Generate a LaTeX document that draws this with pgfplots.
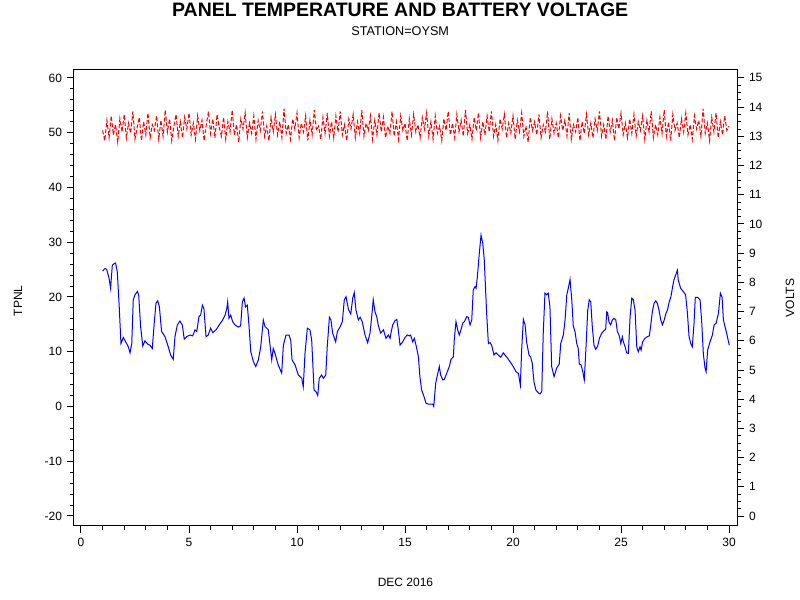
\documentclass[border=0pt]{standalone}
\usepackage{fontspec}
\setmainfont{Liberation Sans}
\usepackage{pgfplots}
\pgfplotsset{compat=1.18}
\usetikzlibrary{calc}

\pgfplotstableread{
x y
1.0 13.20
1.1 12.85
1.2 13.55
1.3 12.95
1.4 13.70
1.5 13.05
1.6 13.40
1.7 12.80
1.8 13.60
1.9 13.15
2.0 13.75
2.1 12.95
2.2 13.45
2.3 13.10
2.4 13.85
2.5 12.90
2.6 13.30
2.7 13.65
2.8 12.85
2.9 13.50
3.0 13.05
3.1 13.80
3.2 12.95
3.3 13.40
3.4 13.20
3.5 13.70
3.6 12.90
3.7 13.55
3.8 13.00
3.9 13.90
4.0 13.15
4.1 13.60
4.2 12.85
4.3 13.35
4.4 13.75
4.5 13.00
4.6 13.50
4.7 12.95
4.8 13.65
4.9 13.25
5.0 13.80
5.1 13.05
5.2 13.45
5.3 12.90
5.4 13.70
5.5 13.20
5.6 13.55
5.7 12.85
5.8 13.40
5.9 13.85
6.0 13.10
6.1 13.60
6.2 12.95
6.3 13.75
6.4 13.30
6.5 13.00
6.6 13.65
6.7 12.90
6.8 13.50
6.9 13.15
7.0 13.90
7.1 13.05
7.2 13.40
7.3 12.80
7.4 13.60
7.5 13.25
7.6 13.80
7.7 12.95
7.8 13.45
7.9 13.10
8.0 13.70
8.1 12.90
8.2 13.55
8.3 13.20
8.4 13.85
8.5 13.00
8.6 13.35
8.7 12.85
8.8 13.65
8.9 13.15
9.0 13.75
9.1 13.05
9.2 13.50
9.3 12.95
9.4 13.95
9.5 13.10
9.6 13.40
9.7 12.90
9.8 13.60
9.9 13.25
10.0 13.80
10.1 12.95
10.2 13.45
10.3 13.15
10.4 13.70
10.5 12.85
10.6 13.55
10.7 13.05
10.8 13.90
10.9 13.20
11.0 13.35
11.1 12.90
11.2 13.65
11.3 13.10
11.4 13.80
11.5 13.00
11.6 13.50
11.7 12.95
11.8 13.70
11.9 13.15
12.0 13.85
12.1 13.05
12.2 13.40
12.3 12.85
12.4 13.60
12.5 13.25
12.6 13.75
12.7 12.95
12.8 13.50
12.9 13.10
13.0 13.90
13.1 13.00
13.2 13.45
13.3 13.20
13.4 13.70
13.5 12.90
13.6 13.55
13.7 13.05
13.8 13.80
13.9 13.15
14.0 13.65
14.1 12.95
14.2 13.35
14.3 13.10
14.4 13.85
14.5 13.00
14.6 13.50
14.7 12.90
14.8 13.70
14.9 13.20
15.0 13.45
15.1 12.85
15.2 13.60
15.3 13.05
15.4 13.75
15.5 13.15
15.6 13.40
15.7 12.95
15.8 13.65
15.9 13.25
16.0 13.80
16.1 13.00
16.2 13.50
16.3 12.90
16.4 13.70
16.5 13.10
16.6 13.35
16.7 12.85
16.8 13.60
16.9 13.20
17.0 13.85
17.1 13.05
17.2 13.45
17.3 12.95
17.4 13.75
17.5 13.15
17.6 13.55
17.7 13.00
17.8 13.90
17.9 13.10
18.0 13.40
18.1 12.90
18.2 13.65
18.3 13.20
18.4 13.80
18.5 12.95
18.6 13.50
18.7 13.05
18.8 13.70
18.9 13.15
19.0 13.85
19.1 13.00
19.2 13.40
19.3 12.85
19.4 13.60
19.5 13.25
19.6 13.75
19.7 12.95
19.8 13.45
19.9 13.10
20.0 13.70
20.1 12.90
20.2 13.55
20.3 13.15
20.4 13.80
20.5 13.00
20.6 13.35
20.7 12.80
20.8 13.65
20.9 13.20
21.0 13.50
21.1 13.05
21.2 13.75
21.3 12.95
21.4 13.40
21.5 13.15
21.6 13.85
21.7 12.90
21.8 13.60
21.9 13.10
22.0 13.45
22.1 12.95
22.2 13.70
22.3 13.20
22.4 13.55
22.5 13.00
22.6 13.80
22.7 12.90
22.8 13.40
22.9 13.15
23.0 13.65
23.1 12.85
23.2 13.50
23.3 13.10
23.4 13.75
23.5 13.05
23.6 13.45
23.7 12.95
23.8 13.60
23.9 13.20
24.0 13.85
24.1 13.00
24.2 13.40
24.3 12.90
24.4 13.70
24.5 13.15
24.6 13.55
24.7 12.85
24.8 13.65
24.9 13.25
25.0 13.80
25.1 13.05
25.2 13.45
25.3 12.95
25.4 13.60
25.5 13.10
25.6 13.75
25.7 13.00
25.8 13.50
25.9 13.20
26.0 13.70
26.1 12.90
26.2 13.55
26.3 13.15
26.4 13.85
26.5 12.95
26.6 13.40
26.7 13.05
26.8 13.65
26.9 13.10
27.0 13.90
27.1 13.00
27.2 13.50
27.3 12.85
27.4 13.75
27.5 13.20
27.6 13.45
27.7 12.95
27.8 13.60
27.9 13.15
28.0 13.80
28.1 13.05
28.2 13.40
28.3 12.90
28.4 13.70
28.5 13.25
28.6 13.55
28.7 13.00
28.8 13.95
28.9 13.10
29.0 13.45
29.1 12.85
29.2 13.65
29.3 13.15
29.4 13.80
29.5 12.95
29.6 13.50
29.7 13.05
29.8 13.70
29.9 13.20
30.0 13.35
}\voltdata

\pgfplotstableread{
x y
1.00 24.75
1.11 25.2
1.19 25.05
1.30 23.4
1.37 21.6
1.45 25.8
1.54 26.1
1.60 26.2
1.68 24.6
1.77 18.2
1.85 11.5
1.96 12.6
2.07 11.8
2.19 10.9
2.27 9.8
2.35 11.5
2.42 19.5
2.50 20.4
2.61 21.0
2.67 20.4
2.76 14.6
2.86 11.05
2.96 12.0
3.09 11.4
3.19 11.2
3.30 10.6
3.39 15.2
3.47 18.85
3.55 19.3
3.63 18.2
3.73 13.7
3.89 12.75
4.04 10.9
4.15 9.4
4.27 8.6
4.35 12.75
4.46 14.9
4.58 15.6
4.69 14.9
4.78 12.3
4.89 12.75
5.05 13.05
5.17 12.9
5.28 14.0
5.36 13.7
5.46 16.4
5.54 16.7
5.62 18.5
5.69 17.9
5.79 12.75
5.89 13.05
6.00 14.3
6.10 13.5
6.25 14.0
6.40 14.9
6.56 15.8
6.67 16.7
6.75 17.9
6.79 19.1
6.85 16.1
6.93 16.7
7.02 15.5
7.13 14.9
7.28 14.5
7.39 14.7
7.47 19.1
7.55 19.8
7.62 18.2
7.70 18.5
7.78 14.6
7.86 10.0
7.98 8.2
8.09 7.3
8.21 8.5
8.32 10.9
8.44 15.8
8.52 14.6
8.60 14.3
8.67 14.0
8.83 8.5
8.90 10.6
8.98 9.7
9.13 7.6
9.29 6.1
9.37 11.2
9.49 13.05
9.63 13.05
9.71 12.1
9.77 8.5
9.91 7.6
10.06 5.75
10.22 5.15
10.29 3.6
10.37 9.7
10.48 14.3
10.60 14.0
10.68 12.1
10.79 3.0
10.88 2.7
10.96 2.0
11.03 5.15
11.14 5.75
11.22 5.15
11.33 5.75
11.40 10.9
11.50 16.3
11.57 15.8
11.65 13.4
11.79 11.8
11.87 13.7
11.99 14.5
12.10 15.5
12.19 19.5
12.27 20.05
12.38 17.75
12.49 16.9
12.58 19.8
12.65 20.8
12.73 17.6
12.84 15.8
12.92 16.3
13.02 15.5
13.15 13.05
13.27 11.65
13.38 13.4
13.45 16.1
13.53 19.5
13.61 17.3
13.69 16.4
13.76 14.9
13.87 13.4
14.00 14.0
14.12 12.45
14.23 13.05
14.31 12.45
14.35 13.4
14.43 14.9
14.54 15.7
14.62 15.9
14.69 14.0
14.77 11.2
14.89 11.8
15.00 12.6
15.11 13.05
15.20 12.9
15.26 13.05
15.36 11.8
15.43 12.45
15.51 11.2
15.62 9.1
15.69 5.45
15.77 3.0
15.88 1.8
15.97 0.6
16.08 0.45
16.19 0.45
16.28 0.45
16.33 0.0
16.42 4.2
16.50 5.75
16.59 7.3
16.65 5.75
16.75 4.85
16.82 4.95
16.93 6.05
17.05 7.3
17.13 8.6
17.24 9.1
17.28 12.15
17.36 15.5
17.44 14.0
17.51 13.05
17.59 14.0
17.67 15.2
17.75 15.5
17.86 16.4
17.93 16.3
18.01 14.9
18.09 15.8
18.16 21.3
18.24 21.9
18.29 21.6
18.35 23.7
18.44 28.0
18.52 31.3
18.60 29.8
18.67 26.75
18.78 17.0
18.86 11.5
18.94 11.65
19.01 11.2
19.12 9.4
19.21 9.8
19.32 9.4
19.43 9.0
19.55 9.8
19.71 9.0
19.86 8.2
20.01 7.3
20.14 6.35
20.25 6.05
20.34 3.9
20.40 10.3
20.48 15.9
20.56 14.9
20.63 11.8
20.74 9.4
20.82 9.0
20.89 7.9
20.97 4.5
21.06 3.0
21.17 2.5
21.25 2.3
21.33 2.7
21.40 13.4
21.48 20.7
21.56 20.4
21.63 20.7
21.71 18.2
21.79 7.3
21.90 5.45
22.02 7.0
22.14 7.75
22.21 11.5
22.33 13.05
22.41 15.8
22.49 20.4
22.56 21.6
22.64 23.2
22.72 19.5
22.79 14.7
22.87 13.7
22.95 11.5
23.02 10.6
23.07 7.76
23.15 7.6
23.23 6.35
23.30 4.85
23.38 10.9
23.46 17.6
23.53 19.5
23.60 19.1
23.67 14.6
23.75 11.2
23.83 10.45
23.92 11.05
24.00 12.45
24.11 13.4
24.21 13.85
24.29 14.1
24.34 17.3
24.38 17.15
24.44 15.5
24.52 14.9
24.60 15.8
24.68 16.1
24.76 15.8
24.83 13.7
24.91 13.05
24.99 11.5
25.06 12.75
25.11 11.8
25.19 10.9
25.26 9.8
25.34 9.7
25.42 16.4
25.50 19.8
25.57 19.5
25.65 17.6
25.73 10.9
25.80 10.0
25.88 10.9
25.93 10.3
26.00 11.8
26.11 12.45
26.22 12.75
26.31 12.9
26.37 14.6
26.45 17.3
26.53 18.85
26.61 19.3
26.68 18.85
26.76 17.6
26.84 15.8
26.92 14.9
27.00 15.8
27.08 17.0
27.15 17.6
27.23 19.1
27.31 20.05
27.39 21.9
27.45 23.1
27.53 24.0
27.61 24.9
27.65 23.1
27.76 21.6
27.88 21.0
27.99 20.4
28.07 17.3
28.15 12.75
28.23 11.5
28.30 10.9
28.38 15.2
28.44 19.95
28.55 19.95
28.66 19.45
28.74 15.2
28.81 9.7
28.89 7.0
28.94 6.35
29.01 10.3
29.12 11.8
29.23 13.05
29.31 14.9
29.40 15.2
29.51 17.0
29.60 20.7
29.68 19.95
29.74 15.8
29.89 13.4
30.01 11.2
}\tempdata

\begin{document}
\begin{tikzpicture}
\pgfplotsset{
  common/.style={
    scale only axis, width=497.25pt, height=342pt,
    xmin=-0.324, xmax=30.37,
    tick align=outside,
    major tick length=5.5pt, minor tick length=2.8pt,
    every tick/.style={black, line width=0.75pt},
    axis line style={line width=0.75pt},
    tick label style={font=\fontsize{9}{10}\selectfont},
    /pgf/number format/assume math mode=true,
  }
}
\begin{axis}[common,
    ymin=-21.83, ymax=61.46,
    xtick={0,5,...,30}, minor x tick num=4,
    ytick={-20,-10,...,60}, minor y tick num=4,
    xtick pos=bottom, ytick pos=left]
  \addplot[blue, line width=0.75pt] table[x=x, y=y] {\tempdata};
  \coordinate (SW) at (rel axis cs:0,0);
  \coordinate (NE) at (rel axis cs:1,1);
\end{axis}
\begin{axis}[common,
    ymin=-0.34, ymax=15.27,
    axis x line=none, axis y line*=right,
    ytick={0,1,...,15}, minor y tick num=3,
    ytick pos=right]
  \addplot[red, line width=0.75pt, dash pattern=on 3pt off 1.5pt] table[x=x, y=y] {\voltdata};
\end{axis}

\node[font=\fontsize{14.6}{16}\selectfont\bfseries] at ($(SW|-NE)!0.5!(NE)+(-4pt,45pt)$) {PANEL TEMPERATURE AND BATTERY VOLTAGE};
\node[font=\fontsize{9.5}{11}\selectfont] at ($(SW|-NE)!0.5!(NE)+(-4pt,29.5pt)$) {STATION=OYSM};
\node[font=\fontsize{9}{10}\selectfont, rotate=90] at ($(SW)!0.5!(SW|-NE)+(-42pt,-2pt)$) {TPNL};
\node[font=\fontsize{9}{10}\selectfont, rotate=90] at ($(NE|-SW)!0.5!(NE)+(39.75pt,0)$) {VOLTS};
\node[font=\fontsize{9}{10}\selectfont] at ($(SW)!0.5!(NE|-SW)+(0,-42pt)$) {DEC 2016};

\pgfresetboundingbox
\path[use as bounding box] ([shift={(-55.5pt,-55.5pt)}]SW) rectangle ([shift={(47.25pt,52.5pt)}]NE);
\end{tikzpicture}
\end{document}
